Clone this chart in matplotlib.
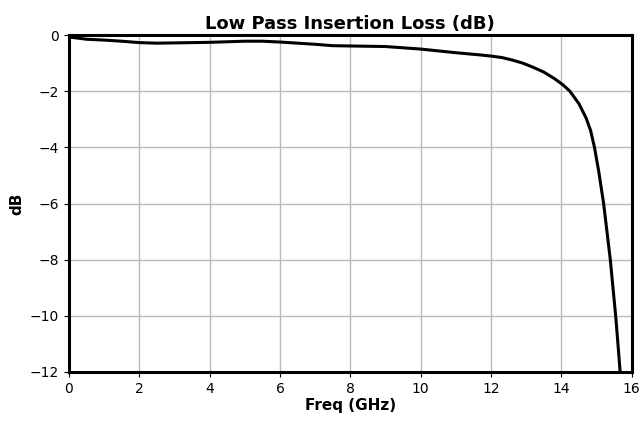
import matplotlib
matplotlib.use('Agg')
import matplotlib.pyplot as plt

freq = [0, 0.5, 1, 1.5, 2, 2.5, 3, 4, 5, 5.5, 6, 7, 7.5, 8, 9, 10, 11, 11.7, 12,
        12.3, 12.6, 12.9, 13.2, 13.5, 13.8, 14.05, 14.24, 14.5, 14.7, 14.83, 14.94,
        15.06, 15.2, 15.39, 15.55, 15.67, 15.72]
loss = [-0.07, -0.15, -0.18, -0.22, -0.27, -0.29, -0.28, -0.26, -0.22, -0.22, -0.25,
        -0.33, -0.38, -0.39, -0.41, -0.5, -0.63, -0.71, -0.75, -0.8, -0.89, -1.0,
        -1.15, -1.32, -1.55, -1.78, -2.0, -2.45, -2.95, -3.4, -4.0, -4.85, -6.0,
        -8.0, -10.1, -12.0, -12.8]

fig = plt.figure(figsize=(6.44, 4.22), dpi=100)
ax = fig.add_axes([0.107, 0.1185, 0.874, 0.7985])
ax.plot(freq, loss, color='black', linewidth=2.2)
ax.set_xlim(0, 16)
ax.set_ylim(-12, 0)
ax.set_xticks(range(0, 17, 2))
ax.set_yticks(range(-12, 1, 2))
ax.grid(True, color='#bbbbbb', linewidth=1)
ax.set_axisbelow(True)
for s in ax.spines.values():
    s.set_linewidth(2.2)
ax.tick_params(labelsize=10)
ax.set_title('Low Pass Insertion Loss (dB)', fontsize=13, fontweight='bold', pad=4)
ax.set_xlabel('Freq (GHz)', fontsize=11, fontweight='bold', labelpad=2)
ax.set_ylabel('dB', fontsize=11, fontweight='bold')
fig.savefig('out.png', dpi=100)
